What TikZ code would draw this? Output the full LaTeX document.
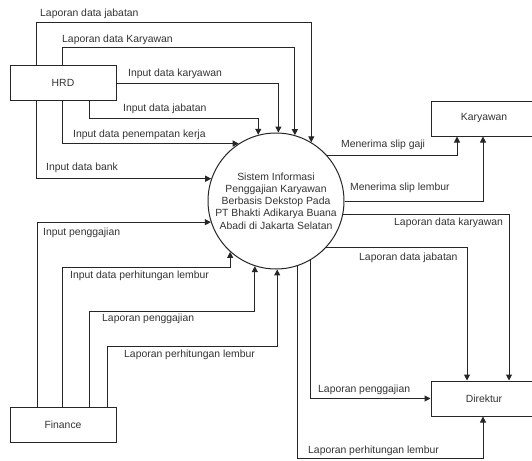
\documentclass[tikz,border=0pt]{standalone}
\usepackage{fontspec}
\setmainfont{Liberation Sans}
\usetikzlibrary{arrows.meta}
\begin{document}
\begin{tikzpicture}[x=1pt,y=-1pt,
  every node/.style={font=\fontsize{10.4}{12.2}\selectfont, text=black!80},
  box/.style={draw=black!85, line width=1pt, minimum width=106pt, minimum height=35pt, inner sep=0pt},
  proc/.style={circle, draw=black!85, line width=1pt, minimum size=136pt, inner sep=0pt, align=center},
  arr/.style={draw=black!85, line width=1pt, -{Triangle[length=6pt,width=6pt]}},
  lbl/.style={anchor=west, inner sep=0pt}]
\fill[white] (0,0) rectangle (532,460);
\useasboundingbox (0,0) rectangle (532,460);

% nodes
\node[box] (hrd) at (63,83) {HRD};
\node[box] (fin) at (63,424.5) {Finance};
\node[box] (kar) at (484,118.5) {Karyawan};
\node[box] (dir) at (484,398.5) {Direktur};
\node[proc] (c) at (276,201) {Sistem Informasi\\Penggajian Karyawan\\Berbasis Dekstop Pada\\PT Bhakti Adikarya Buana\\Abadi di Jakarta Selatan};

% routing levels
\coordinate (yA) at (0,22.5);
\coordinate (yB) at (0,48);
\coordinate (yD) at (0,118);
\coordinate (yH) at (0,267);
\coordinate (yI) at (0,311);
\coordinate (yJ) at (0,346);
\coordinate (yK) at (0,458);

% HRD connectors
\draw[arr] ([xshift=-27pt]hrd.north) |- (c.59 |- yA) -- (c.59);
\draw[arr] ([xshift=-1pt]hrd.north) |- (c.74.65 |- yB) -- (c.74.65);
\draw[arr] (hrd.east) -| (c.88.3);
\draw[arr] ([xshift=26pt]hrd.south) |- (c.105.35 |- yD) -- (c.105.35);
\draw[arr] ([xshift=-1pt]hrd.south) |- (c.123.05);
\draw[arr] ([xshift=-27pt]hrd.south) |- (c.161.1);

% Finance connectors
\draw[arr] ([xshift=-26pt]fin.north) |- (c.198.9);
\draw[arr] ([xshift=-1pt]fin.north) |- (c.228.56 |- yH) -- (c.228.56);
\draw[arr] ([xshift=26pt]fin.north) |- (c.252.9 |- yI) -- (c.252.9);
\draw[arr] ([xshift=44pt]fin.north) |- (c.271.7 |- yJ) -- (c.271.7);

% Right connectors
\draw[arr] (c.42.57) -| ([xshift=-27pt]kar.south);
\draw[arr] (c.0) -| ([xshift=-1pt]kar.south);
\draw[arr] (c.349) -| ([xshift=25pt]dir.north);
\draw[arr] (c.317.43) -| ([xshift=-17pt]dir.north);
\draw[arr] (c.300) |- (dir.west);
\draw[arr] (c.288.9) -- (c.288.9 |- yK) -| ([xshift=-1pt]dir.south);

% labels
\node[lbl] (l1) at (40,14) {Laporan data jabatan};
\node[lbl] (l2) at (62,40) {Laporan data Karyawan};
\node[lbl] (l3) at (128,74) {Input data karyawan};
\node[lbl] (l4) at (123,109) {Input data jabatan};
\node[lbl] (l5) at (73,135) {Input data penempatan kerja};
\node[lbl] (l6) at (46,168) {Input data bank};
\node[lbl] (l7) at (43,233) {Input penggajian};
\node[lbl] (l8) at (70,276) {Input data perhitungan lembur};
\node[lbl] (l9) at (102,319) {Laporan penggajian};
\node[lbl] (l10) at (124,355) {Laporan perhitungan lembur};
\node[lbl] (l11) at (341,145) {Menerima slip gaji};
\node[lbl] (l12) at (350,188) {Menerima slip lembur};
\node[lbl] (l13) at (394,223) {Laporan data karyawan};
\node[lbl] (l14) at (359,258) {Laporan data jabatan};
\node[lbl] (l15) at (318,390) {Laporan penggajian};
\node[lbl] (l16) at (308,451) {Laporan perhitungan lembur};
\end{tikzpicture}
\end{document}
